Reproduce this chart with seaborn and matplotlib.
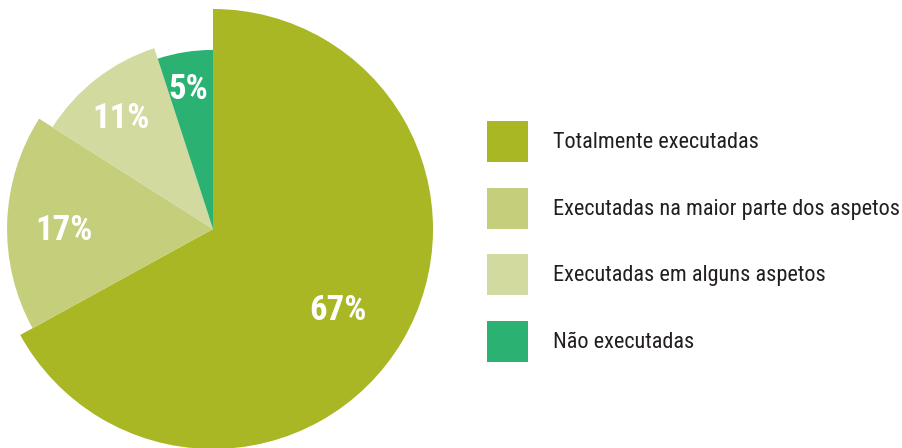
import matplotlib
matplotlib.use("Agg")
import matplotlib.pyplot as plt
import matplotlib.transforms as mtransforms
import seaborn as sns
from matplotlib.patches import Patch

# data
categories = ['Totalmente executadas', 'Executadas na maior parte dos aspetos',
              'Executadas em alguns aspetos', 'Não executadas']
values = [67, 17, 11, 5]
# each slice is drawn with its own radius in the original
radii = [1.0, 0.936, 0.864, 0.814]
colors = ['#A8B723', '#C5CE7A', '#D3DAA0', '#2BB273']

sns.set_theme(style="white")
plt.rcParams['font.family'] = ['Roboto Condensed', 'Roboto', 'DejaVu Sans']

W, H = 903, 448
fig = plt.figure(figsize=(W / 100, H / 100), dpi=100)
cx, cy, r = 213, 229, 220
ax = fig.add_axes([(cx - r) / W, (H - cy - r) / H, 2 * r / W, 2 * r / H])

wedges, texts, autotexts = ax.pie(values, colors=colors, startangle=90, counterclock=False,
                                  autopct='%d%%', pctdistance=0.67, radius=1.0,
                                  wedgeprops=dict(linewidth=0),
                                  textprops=dict(color='white', fontsize=25, fontweight='bold'))
for w, rad in zip(wedges, radii):
    w.set_radius(rad)
shift = mtransforms.ScaledTranslation(-2 / 100, -6 / 100, fig.dpi_scale_trans)
for t in autotexts:
    t.set_ha('center')
    t.set_va('center')
    t.set_transform(t.get_transform() + shift)
ax.set_xlim(-1, 1)
ax.set_ylim(-1, 1)
ax.set_aspect('equal')
ax.axis('off')

fs = 16
handles = [Patch(facecolor=c, edgecolor='none') for c in colors]
fig.legend(handles, categories, loc='upper left', bbox_to_anchor=(487 / W, 1 - 121 / H),
           frameon=False, fontsize=fs, handlelength=1.844, handleheight=2.46,
           handletextpad=1.125, labelspacing=1.15, borderpad=0, borderaxespad=0,
           labelcolor='#231F20')

fig.savefig('out.png', dpi=100)
